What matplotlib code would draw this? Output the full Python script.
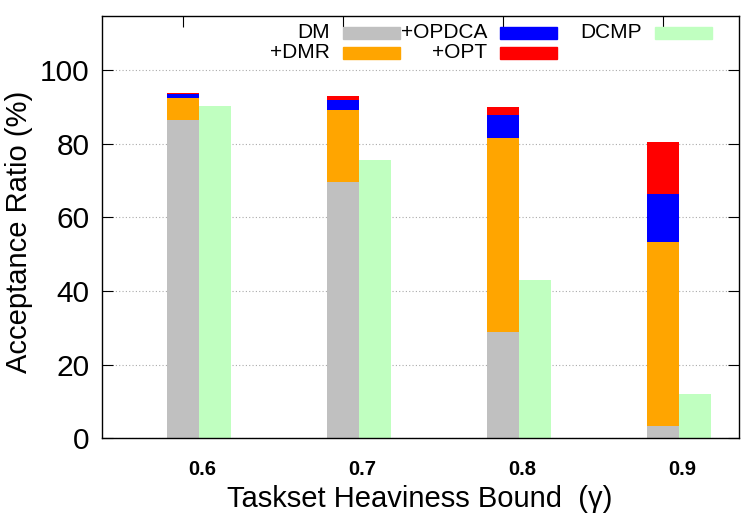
import numpy as np
import matplotlib.pyplot as plt
from matplotlib.patches import Rectangle
from matplotlib.transforms import blended_transform_factory

plt.rcParams['font.family'] = ['Liberation Sans', 'DejaVu Sans']

# heaviness bound groups
groups = ['0.6', '0.7', '0.8', '0.9']
# stacked tops (cumulative acceptance ratio, %)
dm = [86.5, 69.7, 28.9, 3.4]
dmr = [92.5, 89.2, 81.7, 53.4]
opdca = [93.4, 92.0, 87.7, 66.4]
opt = [93.8, 92.9, 89.9, 80.5]
dcmp = [90.3, 75.7, 42.9, 12.1]

W, H = 747, 523
fig = plt.figure(figsize=(W / 100, H / 100), dpi=100)
ax = fig.add_axes([102 / W, 1 - 438.3 / H, (739.3 - 102) / W, (438.3 - 15.7) / H])

x = np.arange(len(groups))
bw = 0.2
c_dm, c_dmr, c_opdca, c_opt, c_dcmp = '#c0c0c0', '#ffa500', '#0000ff', '#ff0000', '#c0ffc0'

dm = np.array(dm); dmr = np.array(dmr); opdca = np.array(opdca); opt = np.array(opt)
ax.bar(x, dm, bw, color=c_dm, zorder=2)
ax.bar(x, dmr - dm, bw, bottom=dm, color=c_dmr, zorder=2)
ax.bar(x, opdca - dmr, bw, bottom=dmr, color=c_opdca, zorder=2)
ax.bar(x, opt - opdca, bw, bottom=opdca, color=c_opt, zorder=2)
ax.bar(x + bw, dcmp, bw, color=c_dcmp, zorder=2)

ax.set_xlim(-0.504, 3.479)
ax.set_ylim(0, 114.8)
ax.set_yticks([0, 20, 40, 60, 80, 100])
ax.tick_params(axis='y', labelsize=21.5, direction='in', length=8, right=True, pad=9)
ax.set_xticks(x)
ax.set_xticklabels([])
ax.tick_params(axis='x', direction='in', length=8, top=True, bottom=True)
ax.yaxis.grid(True, linestyle=(0, (1, 2)), color='#aaaaaa', linewidth=0.8, zorder=0)
ax.set_axisbelow(True)
for s in ax.spines.values():
    s.set_linewidth(1.0)
    s.set_zorder(3)

tr = blended_transform_factory(ax.transData, ax.transAxes)
for i, g in enumerate(groups):
    ax.text(i + 0.125, -0.075, g, transform=tr, ha='center', va='center',
            fontsize=14.5, fontweight='bold')

fig.text(420 / W, 1 - 499 / H, 'Taskset Heaviness Bound  (\u03b3)', ha='center', va='center', fontsize=21)
fig.text(19 / W, 1 - 232 / H, 'Acceptance Ratio (%)', ha='center', va='center', rotation=90, fontsize=21)

# legend, gnuplot style: label then colour sample
legend = [('DM', c_dm, 330, 400, 33), ('+DMR', c_dmr, 330, 400, 53),
          ('+OPDCA', c_opdca, 487, 557, 33), ('+OPT', c_opt, 487, 557, 53),
          ('DCMP', c_dcmp, 642, 712, 33)]
for lab, col, xr, xe, yc in legend:
    fig.text(xr / W, 1 - yc / H, lab, ha='right', va='center', fontsize=15)
    fig.patches.append(Rectangle(((xe - 57) / W, 1 - (yc + 5.5) / H), 57 / W, 11 / H,
                                 transform=fig.transFigure, color=col, zorder=5))

fig.savefig('out.png', dpi=100)
